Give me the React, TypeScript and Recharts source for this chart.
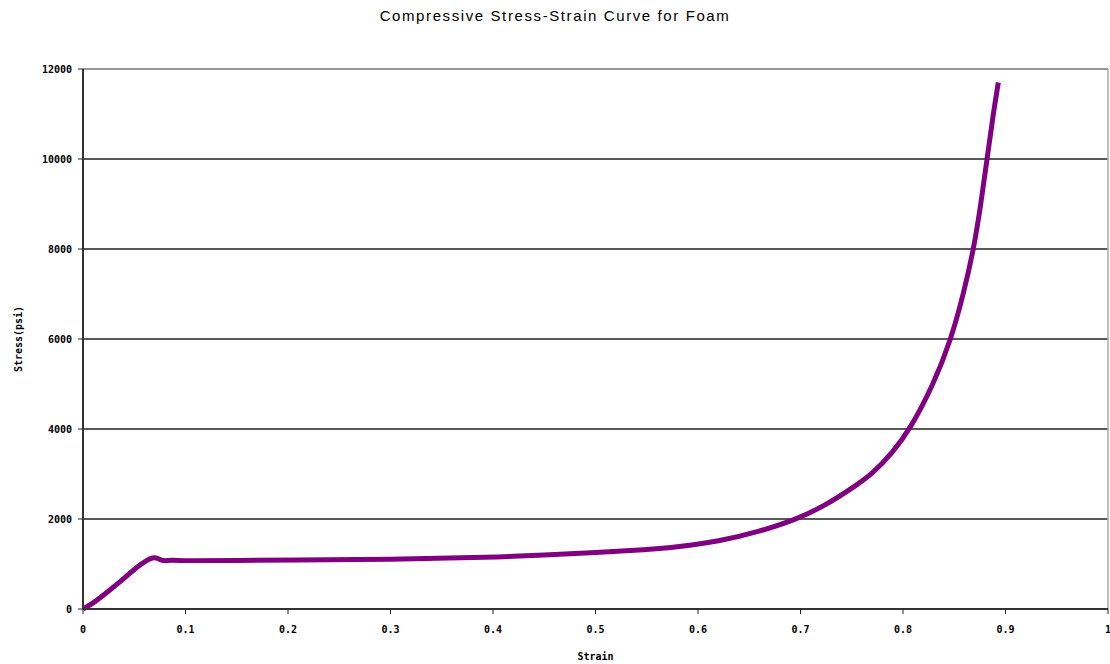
import React from "react";
import {
  LineChart,
  Line,
  XAxis,
  YAxis,
  CartesianGrid,
  ReferenceLine,
} from "recharts";

const strain = [
  0, 0.012, 0.024, 0.04, 0.054, 0.062, 0.068, 0.073, 0.078, 0.085, 0.1, 0.15,
  0.2, 0.3, 0.4, 0.45, 0.5, 0.55, 0.58, 0.62, 0.66, 0.697, 0.724, 0.75, 0.77,
  0.79, 0.807, 0.83, 0.847, 0.859, 0.869, 0.876, 0.882, 0.888, 0.893,
];
const stress = [
  0, 160, 380, 680, 960, 1080, 1150, 1130, 1060, 1090, 1070, 1080, 1090, 1100,
  1150, 1200, 1250, 1320, 1380, 1500, 1720, 2000, 2300, 2680, 3000, 3480,
  4000, 5000, 6000, 7000, 8000, 9000, 10000, 11000, 11700,
];
const xTicks = [0, 0.1, 0.2, 0.3, 0.4, 0.5, 0.6, 0.7, 0.8, 0.9, 1];
const yTicks = [0, 2000, 4000, 6000, 8000, 10000, 12000];

const data = strain.map((s, i) => ({ strain: s, stress: stress[i] }));

const tickStyle = {
  fontFamily: "DejaVu Sans Mono, monospace",
  fontSize: 10,
  fontWeight: 700,
  fill: "#000",
};

export default function App() {
  return (
    <div
      style={{
        position: "absolute",
        left: 0,
        top: 0,
        width: 1110,
        height: 664,
        background: "#fff",
      }}
    >
      <div
        style={{
          position: "absolute",
          top: 7,
          left: 0,
          width: 1110,
          textAlign: "center",
          fontFamily: "Liberation Sans, Arial, sans-serif",
          fontSize: 15,
          letterSpacing: 1.6,
          color: "#000",
        }}
      >
        Compressive Stress-Strain Curve for Foam
      </div>
      <LineChart
        width={1110}
        height={664}
        data={data}
        margin={{ top: 69, right: 2, left: 25, bottom: 0 }}
      >
        <CartesianGrid vertical={false} stroke="#222" strokeWidth={1.5} />
        <ReferenceLine y={12000} stroke="#aaa" strokeWidth={1.5} />
        <ReferenceLine x={1} stroke="#aaa" strokeWidth={1.5} />
        <XAxis
          dataKey="strain"
          type="number"
          domain={[0, 1]}
          ticks={xTicks}
          interval={0}
          tickFormatter={(v) => String(v)}
          tick={tickStyle}
          tickLine={{ stroke: "#222" }}
          axisLine={{ stroke: "#333", strokeWidth: 2 }}
          tickSize={5}
          tickMargin={12}
          height={55}
          label={{
            value: "Strain",
            position: "insideBottom",
            offset: 4,
            style: { ...tickStyle, fontSize: 10 },
          }}
        />
        <YAxis
          dataKey="stress"
          type="number"
          domain={[0, 12000]}
          ticks={yTicks}
          interval={0}
          tick={tickStyle}
          tickLine={{ stroke: "#222" }}
          axisLine={{ stroke: "#333", strokeWidth: 2 }}
          tickSize={5}
          tickMargin={6}
          width={58}
          label={{
            value: "Stress(psi)",
            angle: -90,
            position: "insideLeft",
            offset: -7,
            style: { ...tickStyle, fontSize: 10, textAnchor: "middle" },
          }}
        />
        <Line
          type="basis"
          dataKey="stress"
          stroke="#800080"
          strokeWidth={5}
          dot={false}
          isAnimationActive={false}
        />
      </LineChart>
    </div>
  );
}
